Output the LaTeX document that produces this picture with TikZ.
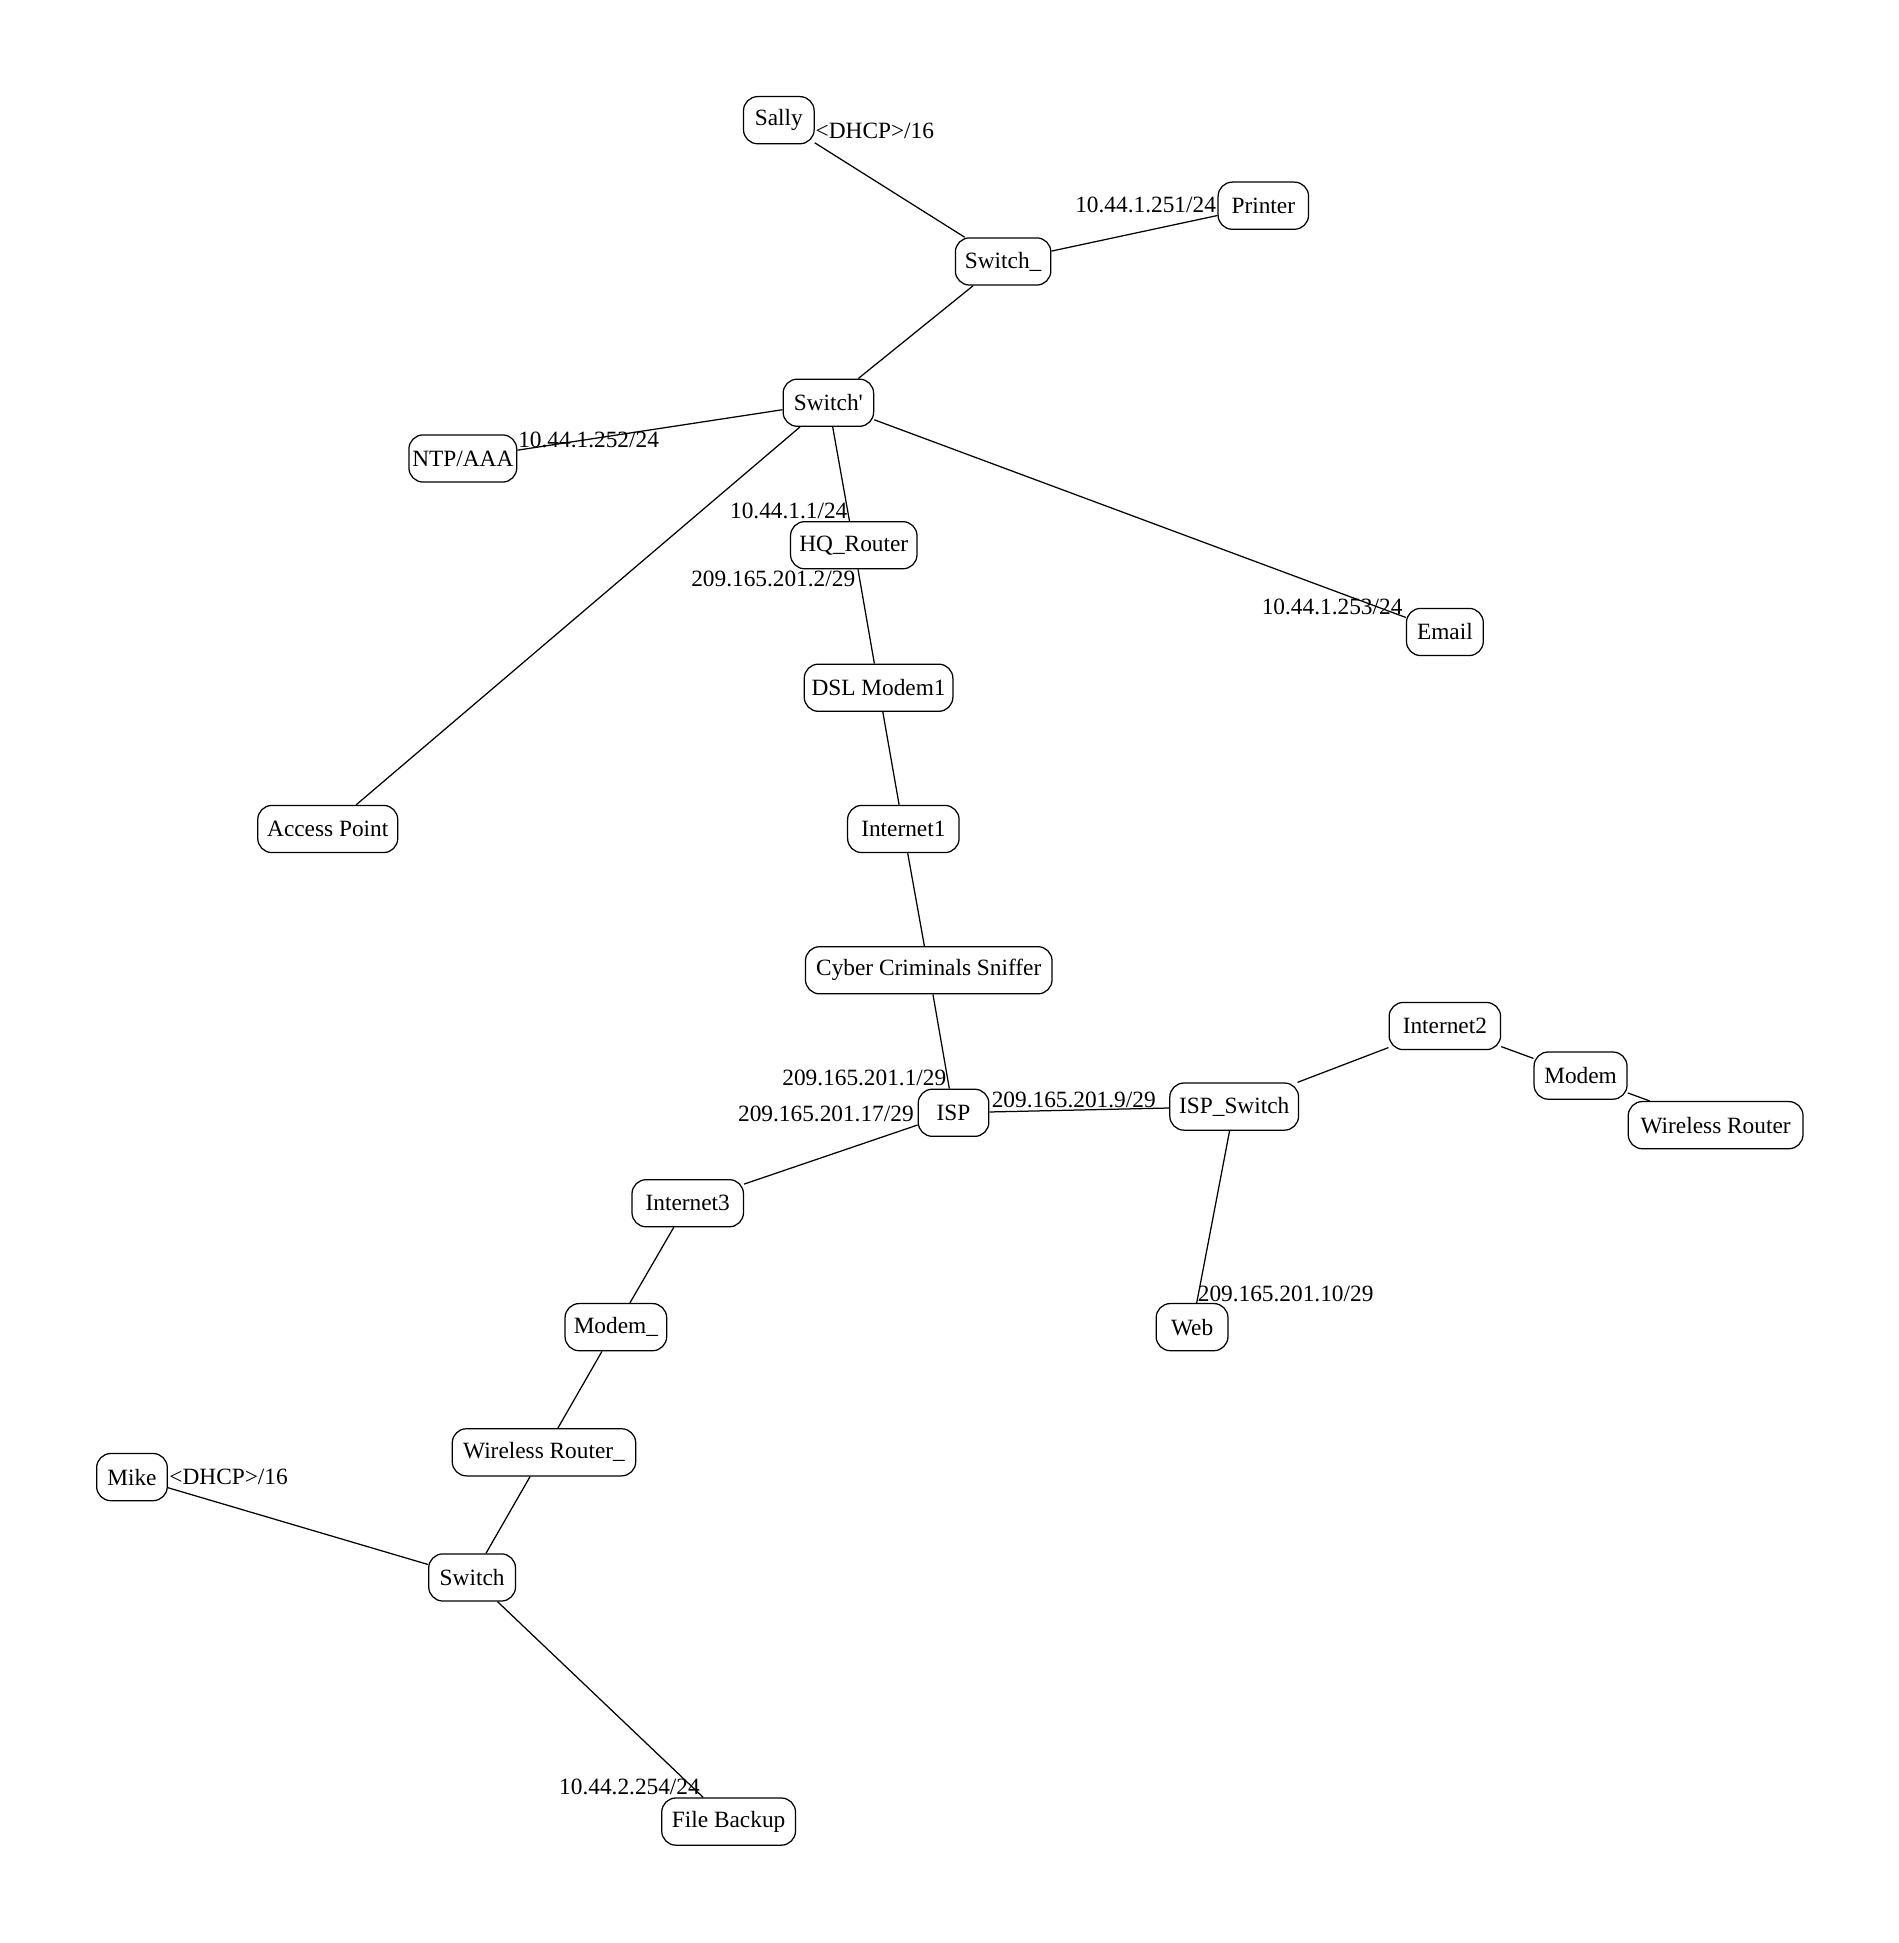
\documentclass[tikz,border=0pt]{standalone}
\usepackage{fontspec}
\setmainfont{Liberation Serif}
\usepackage{tikz}
\usetikzlibrary{positioning}

\begin{document}
\begin{tikzpicture}[
    x=0.7437pt, y=-0.7437pt,
    box/.style={rectangle, draw, line width=0.75pt, rounded corners=8.5pt, minimum width=42.4pt, minimum height=28.3pt, inner xsep=2pt, font=\fontsize{14}{17}\selectfont},
    link/.style={line width=0.75pt},
    lbl/.style={inner sep=0pt, font=\fontsize{14}{17}\selectfont}
]
\useasboundingbox (0,0) rectangle (1532,1568);

% HQ side
\node[box] (sally) at (628.5,97) {Sally};
\node[box, minimum width=57.3pt] (switchB) at (809.5,211) {Switch\_};
\node[box, minimum width=54.3pt] (printer) at (1019.5,166) {Printer};
\node[box, minimum width=54.3pt] (switchA) at (668.5,325) {Switch\textquotesingle};
\node[box, minimum width=64.7pt] (ntp) at (373.5,370) {NTP/AAA};
\node[box, minimum width=75.9pt] (hqrouter) at (689,440) {HQ\_Router};
\node[box, minimum width=46.1pt] (email) at (1166,510) {Email};
\node[box, minimum width=84pt] (ap) at (264.5,669) {Access Point};

% Uplink
\node[box, minimum width=89.2pt] (dslmodem) at (709,555) {DSL Modem1};
\node[box, minimum width=66.9pt] (inet1) at (729,669) {Internet1};
\node[box, minimum width=148pt] (sniffer) at (749.5,783) {Cyber Criminals Sniffer};
\node[box] (isp) at (769.5,898) {ISP};
\node[box, minimum width=77.3pt] (ispswitch) at (996,893) {ISP\_Switch};
\node[box, minimum width=43.1pt] (web) at (962,1071) {Web};

% Sally's home
\node[box, minimum width=66.9pt] (inet2) at (1166,828) {Internet2};
\node[box, minimum width=55.8pt] (modem) at (1275.5,868) {Modem};
\node[box, minimum width=104.9pt] (wrouter) at (1384.5,908) {Wireless Router};

% Mike's home
\node[box, minimum width=66.9pt] (inet3) at (555,971) {Internet3};
\node[box, minimum width=61pt] (modemB) at (497,1071) {Modem\_};
\node[box, minimum width=110.1pt] (wrouterB) at (439,1172) {Wireless Router\_};
\node[box, minimum width=52.1pt] (switch) at (381,1273) {Switch};
\node[box] (mike) at (106.5,1192) {Mike};
\node[box, minimum width=80.3pt] (backup) at (588,1470) {File Backup};

% Links
\draw[link] (sally) -- (switchB);
\draw[link] (switchB) -- (printer);
\draw[link] (switchB) -- (switchA);
\draw[link] (switchA) -- (ntp);
\draw[link] (switchA) -- (hqrouter);
\draw[link] (switchA) -- (email);
\draw[link] (switchA) -- (ap);
\draw[link] (hqrouter) -- (dslmodem);
\draw[link] (dslmodem) -- (inet1);
\draw[link] (inet1) -- (sniffer);
\draw[link] (sniffer) -- (isp);
\draw[link] (isp) -- (ispswitch);
\draw[link] (isp) -- (inet3);
\draw[link] (ispswitch) -- (inet2);
\draw[link] (inet2) -- (modem);
\draw[link] (modem) -- (wrouter);
\draw[link] (ispswitch) -- (web);
\draw[link] (inet3) -- (modemB);
\draw[link] (modemB) -- (wrouterB);
\draw[link] (wrouterB) -- (switch);
\draw[link] (switch) -- (mike);
\draw[link] (switch) -- (backup);

% Addresses
\node[lbl] (ipsally) at (706,106) {<DHCP>/16};
\node[lbl] (ipprinter) at (924.5,165) {10.44.1.251/24};
\node[lbl] (ipntp) at (475,355) {10.44.1.252/24};
\node[lbl] (iphqin) at (636.5,412) {10.44.1.1/24};
\node[lbl] (iphqout) at (624,467) {209.165.201.2/29};
\node[lbl] (ipemail) at (1075,490) {10.44.1.253/24};
\node[lbl] (ipispa) at (697.5,870) {209.165.201.1/29};
\node[lbl] (ipispc) at (666.5,899) {209.165.201.17/29};
\node[lbl] (ipispb) at (866.5,888) {209.165.201.9/29};
\node[lbl] (ipweb) at (1037.5,1044) {209.165.201.10/29};
\node[lbl] (ipmike) at (184.5,1192) {<DHCP>/16};
\node[lbl] (ipbackup) at (508,1442) {10.44.2.254/24};

\end{tikzpicture}
\end{document}
